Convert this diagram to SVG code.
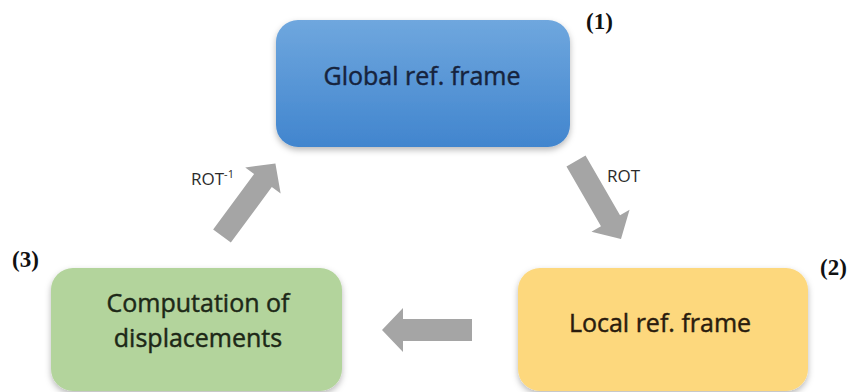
<svg xmlns="http://www.w3.org/2000/svg" width="851" height="392" viewBox="0 0 851 392">
  <defs>
    <linearGradient id="blueFill" x1="0" y1="0" x2="0" y2="1">
      <stop offset="0" stop-color="#6fa7de"/>
      <stop offset="1" stop-color="#4185ce"/>
    </linearGradient>
    <filter id="soft" x="-10%" y="-10%" width="120%" height="130%">
      <feDropShadow dx="0" dy="3" stdDeviation="3" flood-color="#000" flood-opacity="0.28"/>
    </filter>
    <!-- block arrow pointing along +x, tail at origin -->
    <path id="blockArrow" d="M0,-11 H69 V-22 L90,0 L69,22 V11 H0 Z"/>
  </defs>
  <style>
    .box-text { font-family: "Open Sans", "Liberation Sans", sans-serif; font-size: 25px; text-anchor: middle; stroke-width: 0.45px; }
    .num { font-family: "Liberation Serif", "Times New Roman", serif; font-weight: bold; font-size: 23px; fill: #111; }
    .rot { font-family: "Open Sans", "Liberation Sans", sans-serif; font-size: 17px; fill: #2b2b2b; }
    .arrow { fill: #a5a5a5; }
  </style>

  <g id="connectors">
    <use href="#blockArrow" class="arrow" transform="translate(576,161) rotate(60)"/>
    <use href="#blockArrow" class="arrow" transform="translate(472,330) rotate(180)"/>
    <use href="#blockArrow" class="arrow" transform="translate(222,236) rotate(-53.6)"/>
    <text class="rot" x="607" y="182">ROT</text>
    <text class="rot" x="191" y="185">ROT<tspan font-size="11" dy="-7">-1</tspan></text>
  </g>

  <g id="global-frame">
    <rect x="276" y="20" width="294" height="127" rx="22" fill="url(#blueFill)" filter="url(#soft)"/>
    <text class="box-text" x="422" y="85" fill="#16233d" stroke="#16233d">Global ref. frame</text>
    <text class="num" x="586" y="29">(1)</text>
  </g>

  <g id="local-frame">
    <rect x="518" y="268" width="290" height="123" rx="22" fill="#fdd87d" filter="url(#soft)"/>
    <text class="box-text" x="660" y="332" fill="#2a1c0e" stroke="#2a1c0e">Local ref. frame</text>
    <text class="num" x="820" y="275">(2)</text>
  </g>

  <g id="displacements">
    <rect x="51" y="268" width="291" height="123" rx="22" fill="#b3d49c" filter="url(#soft)"/>
    <text class="box-text" x="198" y="312" fill="#1d2817" stroke="#1d2817">Computation of</text>
    <text class="box-text" x="198" y="347" fill="#1d2817" stroke="#1d2817">displacements</text>
    <text class="num" x="12" y="267">(3)</text>
  </g>
</svg>
